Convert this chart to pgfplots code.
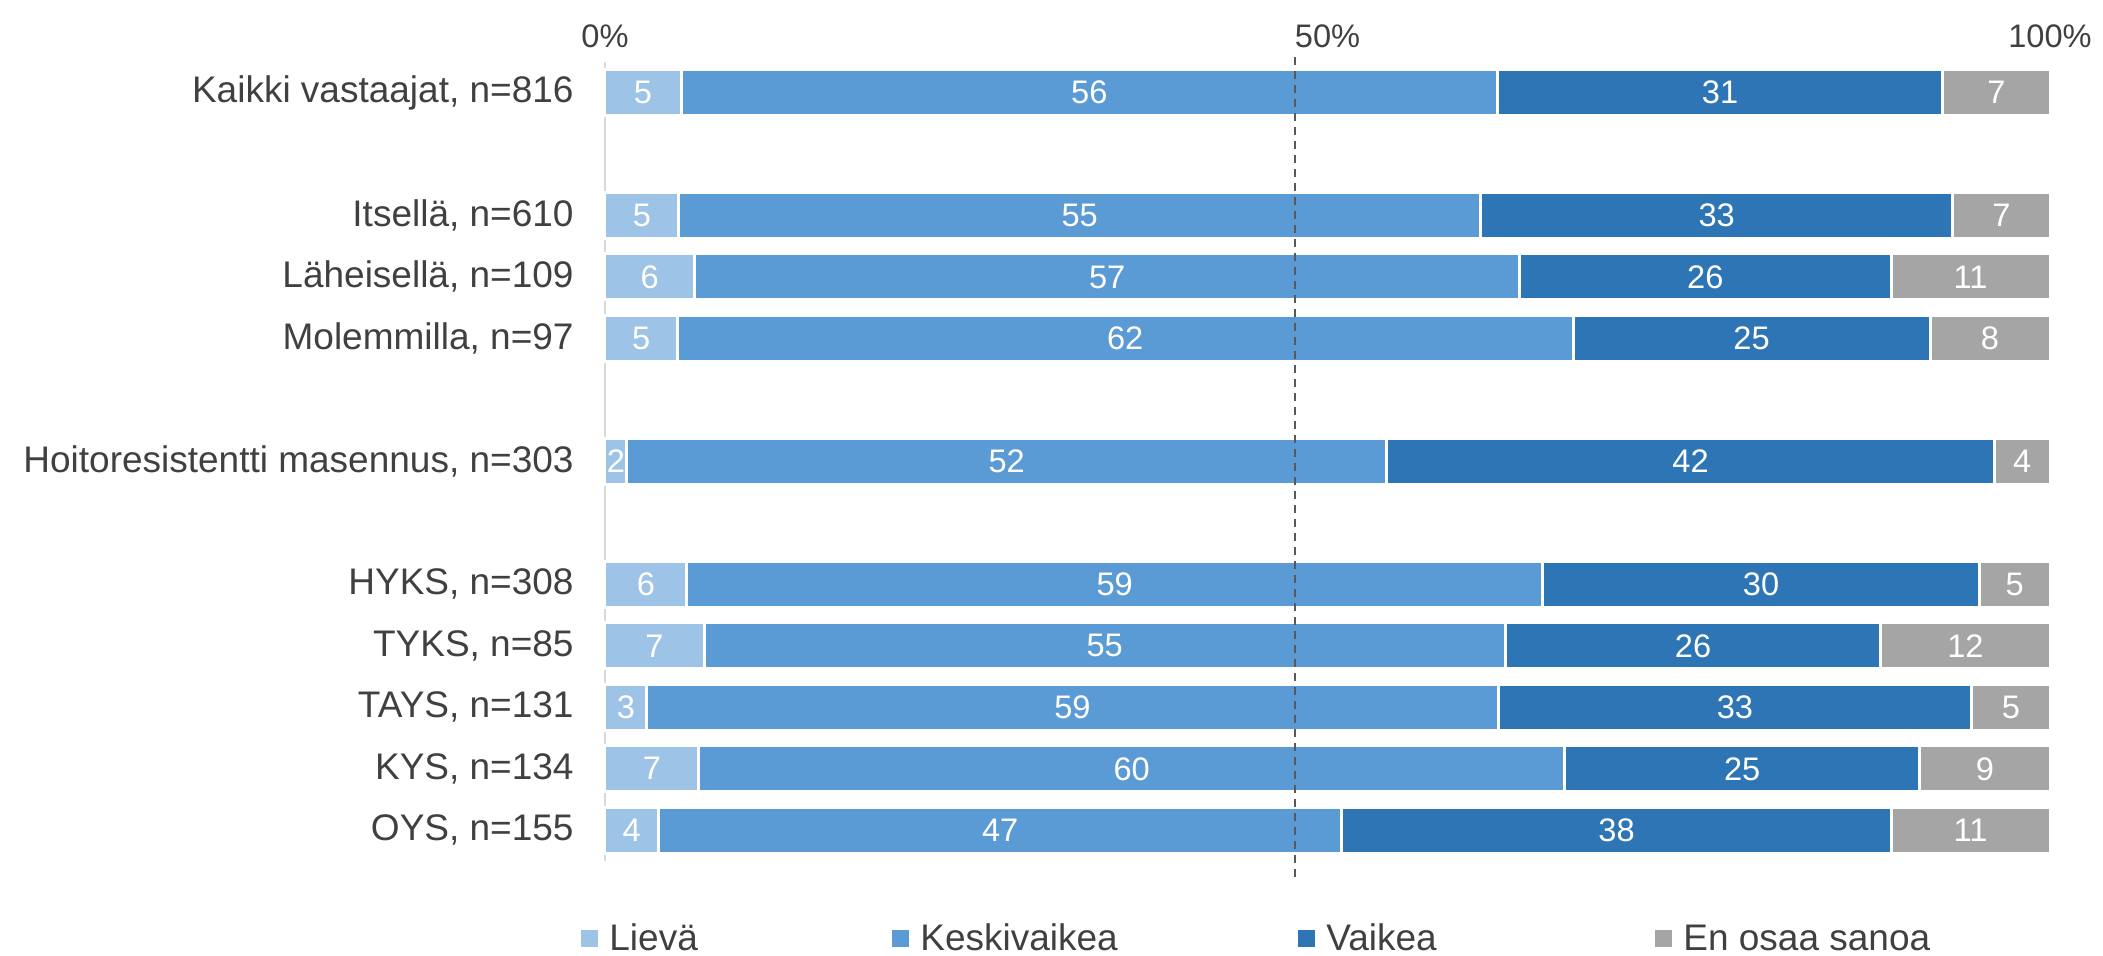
\documentclass[border=0pt]{standalone}
\usepackage{fontspec}
\setmainfont{Liberation Sans}
\usepackage{pgfplots}
\usepackage{pgfplotstable}
\pgfplotsset{compat=1.18}
\definecolor{cA}{HTML}{9DC3E6}
\definecolor{cB}{HTML}{5B9BD5}
\definecolor{cC}{HTML}{2E75B6}
\definecolor{cD}{HTML}{A5A5A5}
\definecolor{txt}{HTML}{404040}
\definecolor{cGrid}{HTML}{D9D9D9}
\definecolor{cDash}{HTML}{595959}

% y: 12 = Kaikki vastaajat ... 0 = OYS
\pgfplotstableread{
y v lab
12 5.26 5
10 5.10 5
9 6.20 6
8 5.00 5
6 1.50 2
4 5.65 6
3 6.86 7
2 2.90 3
1 6.50 7
0 3.70 4
}\lieva
\pgfplotstableread{
y v lab
12 56.51 56
10 55.50 55
9 57.10 57
8 62.00 62
6 52.60 52
4 59.25 59
3 55.44 55
2 58.90 59
1 59.90 60
0 47.30 47
}\keski
\pgfplotstableread{
y v lab
12 30.80 31
10 32.67 33
9 25.70 26
8 24.70 25
6 42.05 42
4 30.20 30
3 26.00 26
2 32.80 33
1 24.60 25
0 38.00 38
}\vaikea
\pgfplotstableread{
y v lab
12 7.43 7
10 6.73 7
9 11.00 11
8 8.30 8
6 3.85 4
4 4.90 5
3 11.70 12
2 5.40 5
1 9.00 9
0 11.00 11
}\eos

\begin{document}
\begin{tikzpicture}
\useasboundingbox (-302.5pt,-47.5pt) rectangle (749pt,430.5pt);
\begin{axis}[
  scale only axis, width=722.5pt, height=399.6pt,
  xbar stacked, bar width=23pt,
  xmin=0, xmax=100, ymin=-0.5, ymax=12.5,
  axis x line*=top, axis y line*=left,
  x axis line style={draw=none},
  y axis line style={draw=cGrid, line width=1pt},
  xtick={0,50,100}, xticklabels={0\%,50\%,100\%},
  ytick={0,1,2,3,4,6,8,9,10,12},
  yticklabels={{OYS, n=155},{KYS, n=134},{TAYS, n=131},{TYKS, n=85},{HYKS, n=308},{Hoitoresistentti masennus, n=303},{Molemmilla, n=97},{Läheisellä, n=109},{Itsellä, n=610},{Kaikki vastaajat, n=816}},
  major tick length=0pt,
  xticklabel style={font=\fontsize{16.3}{19}\selectfont, text=txt, anchor=base, yshift=7pt},
  yticklabel style={font=\fontsize{18.5}{22}\selectfont, text=txt, anchor=east, inner sep=0pt, xshift=-15.5pt},
  clip=false,
  point meta=explicit symbolic,
  nodes near coords,
  every node near coord/.append style={anchor=center, text=white, font=\fontsize{16.3}{19}\selectfont, inner sep=0pt},
  legend style={draw=none, fill=none, inner sep=0pt, at={(axis description cs:0,0)}, anchor=west, xshift=-12pt, yshift=-39pt, font=\fontsize{18.5}{22}\selectfont, text=txt, column sep=0pt, nodes={inner sep=0pt}},
  legend columns=4,
  legend image code/.code={\path[#1,draw=none] (0pt,-4.25pt) rectangle (8.5pt,4.25pt);},
  every axis plot/.append style={draw=white, line width=1.5pt},
]
\addplot[fill=cA] table[x=v, y=y, meta=lab] {\lieva};
\addlegendentry{\makebox[147pt][l]{\hspace*{5.5pt}Lievä}}
\addplot[fill=cB] table[x=v, y=y, meta=lab] {\keski};
\addlegendentry{\makebox[194.5pt][l]{\hspace*{5.5pt}Keskivaikea}}
\addplot[fill=cC] table[x=v, y=y, meta=lab] {\vaikea};
\addlegendentry{\makebox[170pt][l]{\hspace*{5.5pt}Vaikea}}
\addplot[fill=cD] table[x=v, y=y, meta=lab] {\eos};
\addlegendentry{\hspace*{5.5pt}En osaa sanoa}
\coordinate (dtop) at (axis cs:47.75,12.58);
\coordinate (dbot) at (axis cs:47.75,-0.76);
\end{axis}
\draw[cDash, line width=1.3pt, dash pattern=on 4pt off 3pt] (dtop) -- (dbot);
\end{tikzpicture}
\end{document}
